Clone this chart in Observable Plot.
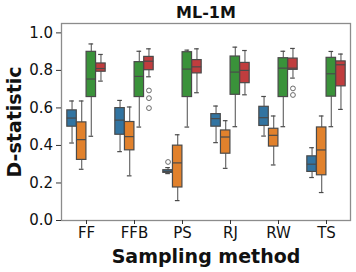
<!DOCTYPE html>
<html>
<head>
<meta charset="utf-8">
<script src="https://cdn.jsdelivr.net/npm/d3@7"></script>
<script src="https://cdn.jsdelivr.net/npm/@observablehq/plot@0.6"></script>
<style>
  html, body { margin: 0; padding: 0; background: #fff; }
  svg { display: block; }
</style>
</head>
<body>
<div id="chart"></div>
<script>
const title = "ML-1M";
const xLabel = "Sampling method";
const yLabel = "D-statistic";
const methods = ["FF", "FFB", "PS", "RJ", "RW", "TS"];
const series = ["S1", "S2", "S3", "S4"];
const colors = ["#3274a1", "#e1812c", "#3a923a", "#c03d3e"];
const yTicks = [0, 0.2, 0.4, 0.6, 0.8, 1.0];

// rows = methods, columns = series
const whiskerLow = [
  [0.413, 0.273, 0.449, 0.743],
  [0.367, 0.238, 0.498, 0.766],
  [0.250, 0.106, 0.498, 0.681],
  [0.415, 0.278, 0.500, 0.670],
  [0.450, 0.296, 0.500, 0.759],
  [0.229, 0.149, 0.500, 0.592]
];
const q1 = [
  [0.500, 0.323, 0.658, 0.793],
  [0.457, 0.374, 0.658, 0.801],
  [0.254, 0.176, 0.658, 0.784],
  [0.500, 0.356, 0.670, 0.732],
  [0.504, 0.394, 0.658, 0.803],
  [0.259, 0.241, 0.660, 0.715]
];
const median = [
  [0.546, 0.431, 0.754, 0.810],
  [0.535, 0.447, 0.768, 0.849],
  [0.262, 0.307, 0.807, 0.819],
  [0.543, 0.445, 0.791, 0.800],
  [0.548, 0.454, 0.812, 0.812],
  [0.300, 0.376, 0.782, 0.830]
];
const q3 = [
  [0.587, 0.523, 0.899, 0.837],
  [0.599, 0.525, 0.844, 0.872],
  [0.268, 0.399, 0.897, 0.855],
  [0.567, 0.480, 0.874, 0.840],
  [0.606, 0.489, 0.865, 0.863],
  [0.342, 0.496, 0.867, 0.848]
];
const whiskerHigh = [
  [0.637, 0.637, 0.941, 0.885],
  [0.640, 0.605, 0.902, 0.915],
  [0.282, 0.457, 0.908, 0.915],
  [0.610, 0.532, 0.924, 0.906],
  [0.661, 0.557, 0.902, 0.917],
  [0.388, 0.557, 0.901, 0.887]
];
const outlierMethod = ["FFB", "FFB", "FFB", "PS", "RW", "RW"];
const outlierSeries = [3, 3, 3, 0, 3, 3];
const outlierValue = [0.693, 0.652, 0.599, 0.312, 0.704, 0.669];

// build tables
const rows = [];
methods.forEach((m, mi) => series.forEach((s, si) => rows.push({
  method: m, series: s, si,
  lo: whiskerLow[mi][si], q1: q1[mi][si], med: median[mi][si],
  q3: q3[mi][si], hi: whiskerHigh[mi][si]
})));
const outliers = outlierValue.map((v, k) => ({
  method: outlierMethod[k], series: series[outlierSeries[k]], si: outlierSeries[k], value: v
}));

const W = 356, H = 272, mL = 61, mR = 6, mT = 23, mB = 52;
const bw = (W - mL - mR) / methods.length;
const step = bw * 0.2;
const lineC = "#4a4a4a";
const whiskC = "#6a6a6a";

const marks = [];
series.forEach((s, i) => {
  const d = rows.filter(r => r.si === i);
  const o = outliers.filter(r => r.si === i);
  const dx = (i - 1.5) * step;
  const insetLeft = bw / 2 + (i - 2) * step;
  const insetRight = bw / 2 - (i - 1) * step;
  const capL = insetLeft + step * 0.25, capR = insetRight + step * 0.25;
  marks.push(
    Plot.ruleX(d, {x: "method", y1: "lo", y2: "q1", dx, stroke: whiskC, strokeWidth: 1.2}),
    Plot.ruleX(d, {x: "method", y1: "q3", y2: "hi", dx, stroke: whiskC, strokeWidth: 1.2}),
    Plot.tickY(d, {x: "method", y: "lo", insetLeft: capL, insetRight: capR, stroke: lineC, strokeWidth: 1.2}),
    Plot.tickY(d, {x: "method", y: "hi", insetLeft: capL, insetRight: capR, stroke: lineC, strokeWidth: 1.2}),
    Plot.barY(d, {x: "method", y1: "q1", y2: "q3", fill: "series", stroke: lineC, strokeWidth: 1.2, insetLeft, insetRight}),
    Plot.tickY(d, {x: "method", y: "med", insetLeft, insetRight, stroke: lineC, strokeWidth: 1.2}),
    Plot.dot(o, {x: "method", y: "value", dx, r: 2.4, stroke: whiskC, strokeWidth: 1, fill: "none"})
  );
});

const chart = Plot.plot({
  width: W, height: H,
  marginLeft: mL, marginRight: mR, marginTop: mT, marginBottom: mB,
  style: {fontFamily: "'DejaVu Sans', sans-serif", fontSize: "15px", color: "#111", background: "#fff"},
  x: {domain: methods, padding: 0, axis: null},
  y: {domain: [0, 1.05], axis: null},
  color: {domain: series, range: colors},
  marks: [
    ...marks,
    Plot.frame({stroke: "#8c8c8c", strokeWidth: 1.3}),
    Plot.axisY(yTicks, {tickSize: 5, tickPadding: 3.5, tickFormat: d3.format(".1f"), label: null, fontSize: 15, stroke: "#333"}),
    Plot.axisX(methods, {tickSize: 4, tickPadding: 3, label: null, fontSize: 15, stroke: "#333"}),
    Plot.text([title], {frameAnchor: "top", dy: -11, lineAnchor: "middle", textAnchor: "middle", fontSize: 16, fontWeight: "bold", fontFamily: "'DejaVu Sans'"}),
    Plot.text([xLabel], {frameAnchor: "bottom", dy: 36, lineAnchor: "middle", textAnchor: "middle", fontSize: 19, fontWeight: "bold", fontFamily: "'DejaVu Sans'"}),
    Plot.text([yLabel], {frameAnchor: "left", dx: -47, rotate: -90, lineAnchor: "middle", textAnchor: "middle", fontSize: 19, fontWeight: "bold", fontFamily: "'DejaVu Sans'"})
  ]
});
document.getElementById("chart").appendChild(chart);
</script>
</body>
</html>
